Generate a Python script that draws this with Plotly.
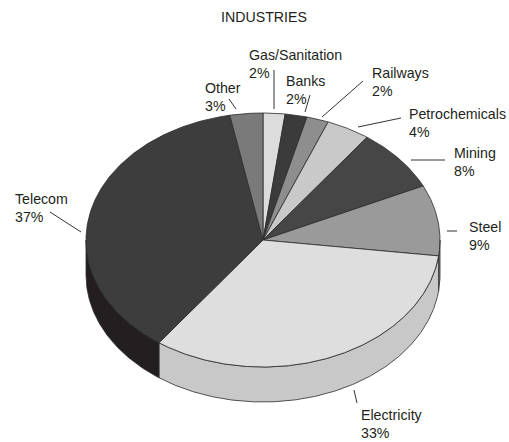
import numpy as np
import plotly.graph_objects as go

# ---- data ----
categories = ["Gas/Sanitation", "Banks", "Railways", "Petrochemicals", "Mining",
              "Steel", "Electricity", "Telecom", "Other"]
values = [2, 2, 2, 4, 8, 9, 33, 37, 3]
title_text = "INDUSTRIES"

# ---- styles ----
top_colors = ["#dcdcdc", "#3b3b3b", "#8e8e8e", "#c9c9c9", "#464646",
              "#9a9a9a", "#dedede", "#3d3d3d", "#7a7a7a"]
side_colors = ["#bdbdbd", "#2a2a2a", "#707070", "#a8a8a8", "#2e2e2e",
               "#7c7c7c", "#c8c8c8", "#231f20", "#5e5e5e"]
EDGE = "#2b2b2b"
FONT = "Liberation Sans, Arial, sans-serif"
TXT = "#231f20"
FSIZE = 14.2

# pie geometry in pixel space (layout)
CX, CY, RX, RY, DEPTH = 263, 240, 177, 127, 35

# label layout: (text left x, name centre y, leader x0, y0, x1, y1)
label_layout = {
    "Gas/Sanitation": (247, 55, 274, 70, 274, 109),
    "Banks": (284, 81, 310, 95, 305, 112),
    "Railways": (370, 73, 363, 81, 322, 117),
    "Petrochemicals": (407, 114, 401, 118, 358, 127),
    "Mining": (452, 153, 445, 160, 411, 160),
    "Steel": (467, 227, 457, 231, 447, 231),
    "Electricity": (359, 415, 357, 403, 354, 390),
    "Telecom": (13, 199, 50, 212, 81, 232),
    "Other": (203, 88, 229, 99, 236, 109),
}


def ell(theta, dy=0.0):
    t = np.radians(theta)
    return CX + RX * np.sin(t), CY - RY * np.cos(t) + dy


total = float(sum(values))
bounds = np.concatenate([[0.0], np.cumsum(values) / total * 360.0])

fig = go.Figure()

# side walls (front half only: 90..270 deg)
for i, cat in enumerate(categories):
    a, b = bounds[i], bounds[i + 1]
    lo, hi = max(a, 90.0), min(b, 270.0)
    if hi <= lo:
        continue
    th = np.linspace(lo, hi, max(3, int((hi - lo) * 2)))
    xt, yt = ell(th)
    xb, yb = ell(th[::-1], DEPTH)
    xs = np.concatenate([xt, xb, xt[:1]])
    ys = np.concatenate([yt, yb, yt[:1]])
    fig.add_trace(go.Scatter(x=xs, y=ys, mode="lines", fill="toself",
                             fillcolor=side_colors[i],
                             line=dict(color=EDGE, width=0.8),
                             hoverinfo="skip", showlegend=False))

# top faces
for i, cat in enumerate(categories):
    a, b = bounds[i], bounds[i + 1]
    th = np.linspace(a, b, max(3, int((b - a) * 2)))
    xt, yt = ell(th)
    xs = np.concatenate([[CX], xt, [CX]])
    ys = np.concatenate([[CY], yt, [CY]])
    fig.add_trace(go.Scatter(x=xs, y=ys, mode="lines", fill="toself",
                             fillcolor=top_colors[i],
                             line=dict(color=EDGE, width=0.8),
                             hoverinfo="skip", showlegend=False,
                             name=cat))

annotations = [dict(x=264, y=17, xref="x", yref="y", text=title_text,
                    showarrow=False, xanchor="center", yanchor="middle",
                    font=dict(family=FONT, size=FSIZE, color=TXT))]
shapes = []
for i, cat in enumerate(categories):
    tx, ty, x0, y0, x1, y1 = label_layout[cat]
    pct = f"{round(values[i] / total * 100)}%"
    annotations.append(dict(x=tx, y=ty, xref="x", yref="y", text=cat,
                            showarrow=False, xanchor="left", yanchor="middle",
                            font=dict(family=FONT, size=FSIZE, color=TXT)))
    annotations.append(dict(x=tx, y=ty + 17.5, xref="x", yref="y", text=pct,
                            showarrow=False, xanchor="left", yanchor="middle",
                            font=dict(family=FONT, size=FSIZE, color=TXT)))
    shapes.append(dict(type="line", xref="x", yref="y", x0=x0, y0=y0,
                       x1=x1, y1=y1, line=dict(color="#333333", width=1)))

fig.update_layout(
    width=509, height=442,
    margin=dict(l=0, r=0, t=0, b=0),
    paper_bgcolor="white", plot_bgcolor="white",
    xaxis=dict(range=[0, 509], visible=False, fixedrange=True),
    yaxis=dict(range=[442, 0], visible=False, fixedrange=True),
    annotations=annotations, shapes=shapes,
)

fig.write_html("out.html")
